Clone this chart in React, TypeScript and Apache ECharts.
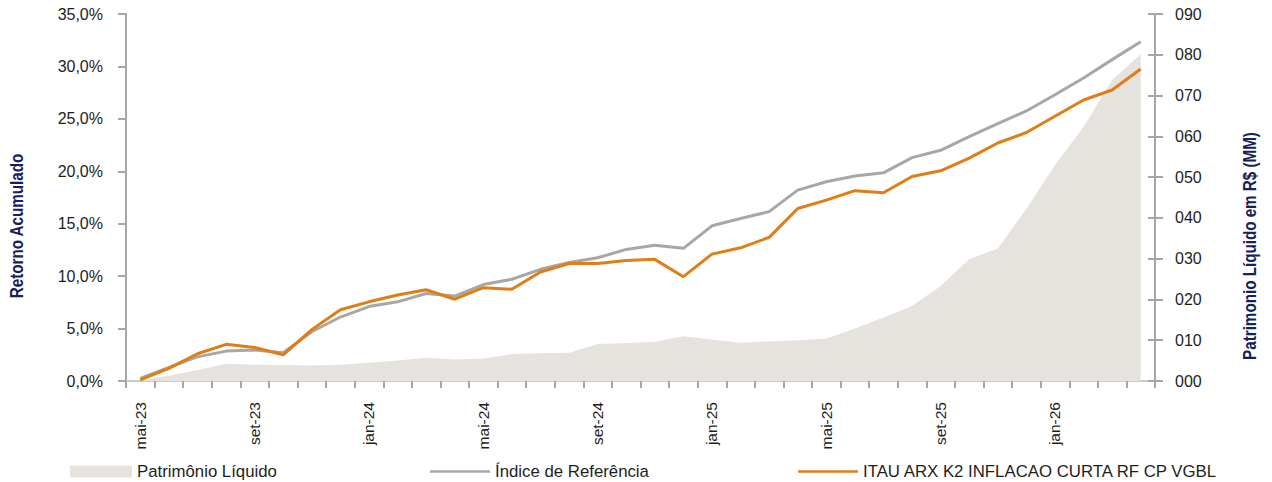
import React, { useEffect, useRef } from "react";
import * as echarts from "echarts";

const categories = [
  "mai-23", "jun-23", "jul-23", "ago-23", "set-23", "out-23", "nov-23", "dez-23",
  "jan-24", "fev-24", "mar-24", "abr-24", "mai-24", "jun-24", "jul-24", "ago-24",
  "set-24", "out-24", "nov-24", "dez-24", "jan-25", "fev-25", "mar-25", "abr-25",
  "mai-25", "jun-25", "jul-25", "ago-25", "set-25", "out-25", "nov-25", "dez-25",
  "jan-26", "fev-26", "mar-26", "abr-26",
];

// Patrimônio Líquido (R$ MM) - right axis
const patrimonio = [
  0.3, 1.3, 2.7, 4.2, 4.0, 3.9, 3.8, 4.0, 4.5, 5.0, 5.7, 5.3,
  5.5, 6.6, 6.8, 6.95, 9.1, 9.3, 9.65, 11.0, 10.2, 9.4, 9.7, 10.0,
  10.45, 12.9, 15.6, 18.4, 23.3, 29.9, 32.5, 42.2, 53.0, 62.3, 73.8, 80.1,
];

// Índice de Referência (% acumulado)
const indice = [
  0.25, 1.3, 2.3, 2.85, 2.95, 2.7, 4.7, 6.1, 7.1, 7.55, 8.35, 8.1,
  9.2, 9.7, 10.65, 11.3, 11.75, 12.55, 12.95, 12.65, 14.8, 15.5, 16.15, 18.2,
  19.0, 19.55, 19.85, 21.3, 22.0, 23.3, 24.55, 25.75, 27.3, 28.9, 30.65, 32.35,
];

// ITAU ARX K2 INFLACAO CURTA RF CP VGBL (% acumulado)
const fundo = [
  0.1, 1.2, 2.6, 3.5, 3.2, 2.5, 4.9, 6.8, 7.55, 8.2, 8.7, 7.8,
  8.9, 8.75, 10.4, 11.2, 11.2, 11.5, 11.6, 9.95, 12.1, 12.7, 13.7, 16.45,
  17.25, 18.15, 17.95, 19.5, 20.05, 21.25, 22.7, 23.7, 25.25, 26.8, 27.75, 29.75,
];

const seriesNames = [
  "Patrimônio Líquido",
  "Índice de Referência",
  "ITAU ARX K2 INFLACAO CURTA RF CP VGBL",
];

const FONT = "'Liberation Sans', Arial, sans-serif";
const AXIS_COLOR = "#a6a6a6";
const TEXT_COLOR = "#1e1e1e";
const NAME_COLOR = "#16205a";
const AREA_COLOR = "#e6e3df";
const GRAY_COLOR = "#aaa7a2";
const ORANGE_COLOR = "#e07d17";

export default function App() {
  const ref = useRef<HTMLDivElement>(null);

  useEffect(() => {
    if (!ref.current) return;
    const chart = echarts.init(ref.current, null, { renderer: "svg" });

    const legendBase = {
      orient: "horizontal",
      top: 458,
      padding: 5,
      itemWidth: 60,
      textStyle: { fontFamily: FONT, fontSize: 16.8, color: TEXT_COLOR },
    };

    chart.setOption({
      animation: false,
      backgroundColor: "#ffffff",
      textStyle: { fontFamily: FONT },
      grid: { left: 126, right: 117, top: 14, bottom: 101, containLabel: false },
      legend: [
        {
          ...legendBase,
          left: 65,
          itemWidth: 62,
          itemHeight: 12,
          data: [{ name: seriesNames[0], icon: "rect" }],
        },
        {
          ...legendBase,
          left: 425,
          itemHeight: 2.5,
          data: [{ name: seriesNames[1], icon: "rect" }],
        },
        {
          ...legendBase,
          left: 793,
          itemHeight: 2.5,
          data: [{ name: seriesNames[2], icon: "rect" }],
        },
      ],
      xAxis: [
        {
          type: "category",
          data: categories,
          boundaryGap: true,
          position: "bottom",
          axisLine: { show: true, lineStyle: { color: AXIS_COLOR, width: 2 } },
          axisTick: {
            show: true,
            interval: 0,
            length: 7,
            lineStyle: { color: AXIS_COLOR, width: 2 },
          },
          axisLabel: {
            interval: 3,
            rotate: 90,
            margin: 21,
            fontSize: 15.5,
            color: TEXT_COLOR,
            fontFamily: FONT,
          },
          splitLine: { show: false },
        },
        {
          type: "category",
          data: categories,
          position: "top",
          axisLine: { show: true, lineStyle: { color: "#d6d6d6", width: 1.5 } },
          axisTick: { show: false },
          axisLabel: { show: false },
          splitLine: { show: false },
        },
      ],
      yAxis: [
        {
          type: "value",
          min: 0,
          max: 35,
          interval: 5,
          position: "left",
          axisLine: { show: true, lineStyle: { color: AXIS_COLOR, width: 2 } },
          axisTick: { show: true, length: 8, lineStyle: { color: AXIS_COLOR, width: 2 } },
          axisLabel: {
            margin: 23,
            fontSize: 16,
            color: TEXT_COLOR,
            fontFamily: FONT,
            formatter: (v: number) => v.toFixed(1).replace(".", ",") + "%",
          },
          splitLine: { show: false },
        },
        {
          type: "value",
          min: 0,
          max: 90,
          interval: 10,
          position: "right",
          axisLine: { show: true, lineStyle: { color: AXIS_COLOR, width: 2 } },
          axisTick: { show: true, length: 8, lineStyle: { color: AXIS_COLOR, width: 2 } },
          axisLabel: {
            margin: 20,
            fontSize: 16,
            color: TEXT_COLOR,
            fontFamily: FONT,
            formatter: (v: number) => String(Math.round(v)).padStart(3, "0"),
          },
          splitLine: { show: false },
        },
        {
          type: "value",
          min: 0,
          max: 90,
          interval: 10,
          position: "right",
          axisLine: { show: false },
          axisTick: {
            show: true,
            inside: true,
            length: 7,
            lineStyle: { color: AXIS_COLOR, width: 2 },
          },
          axisLabel: { show: false },
          splitLine: { show: false },
        },
      ],
      series: [
        {
          name: seriesNames[0],
          type: "line",
          yAxisIndex: 1,
          data: patrimonio,
          symbol: "none",
          itemStyle: { color: AREA_COLOR },
          lineStyle: { width: 0, color: AREA_COLOR },
          areaStyle: { color: AREA_COLOR, opacity: 1 },
          z: 1,
        },
        {
          name: seriesNames[1],
          type: "line",
          yAxisIndex: 0,
          data: indice,
          symbol: "none",
          itemStyle: { color: GRAY_COLOR },
          lineStyle: { width: 3, color: GRAY_COLOR },
          z: 2,
        },
        {
          name: seriesNames[2],
          type: "line",
          yAxisIndex: 0,
          data: fundo,
          symbol: "none",
          itemStyle: { color: ORANGE_COLOR },
          lineStyle: { width: 3, color: ORANGE_COLOR },
          z: 3,
        },
      ],
      graphic: [
        {
          type: "text",
          x: 16,
          y: 226,
          rotation: Math.PI / 2,
          scaleX: 0.8,
          style: {
            text: "Retorno Acumulado",
            fontFamily: FONT,
            fontSize: 19,
            fontWeight: "bold",
            fill: NAME_COLOR,
            textAlign: "center",
            textVerticalAlign: "middle",
          },
        },
        {
          type: "text",
          x: 1249,
          y: 246,
          rotation: Math.PI / 2,
          scaleX: 0.8,
          style: {
            text: "Patrimonio Líquido em R$ (MM)",
            fontFamily: FONT,
            fontSize: 19,
            fontWeight: "bold",
            fill: NAME_COLOR,
            textAlign: "center",
            textVerticalAlign: "middle",
          },
        },
      ],
    });

    return () => {
      chart.dispose();
    };
  }, []);

  return (
    <div
      ref={ref}
      style={{ position: "absolute", left: 0, top: 0, width: 1272, height: 482 }}
    />
  );
}
